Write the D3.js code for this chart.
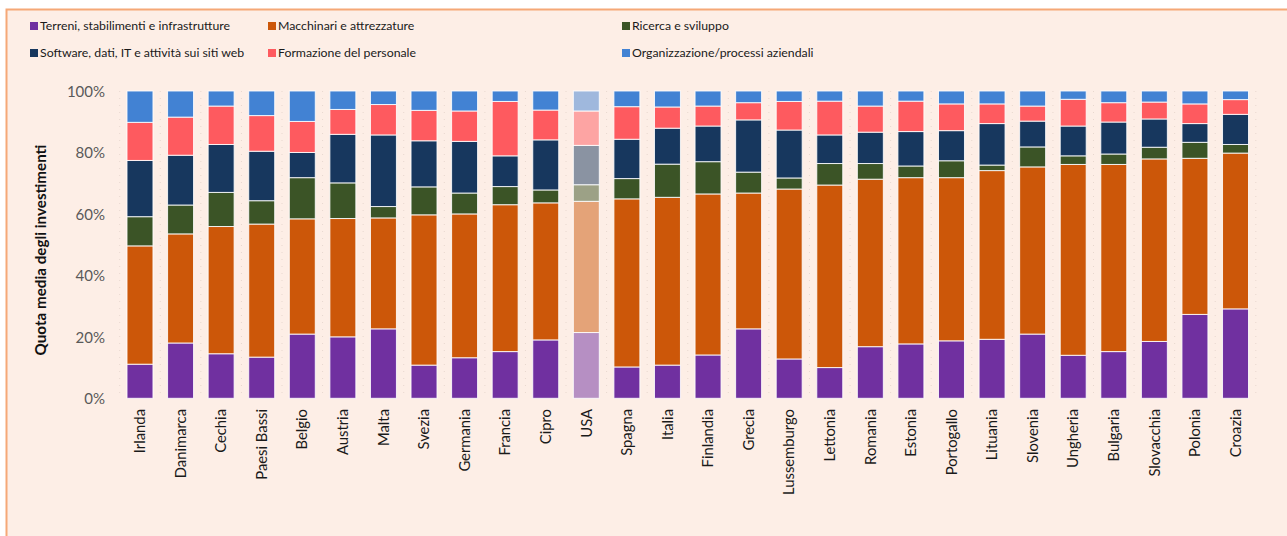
<!DOCTYPE html>
<html>
<head>
<meta charset="utf-8">
<script src="https://cdn.jsdelivr.net/npm/d3@7/dist/d3.min.js"></script>
<style>
  html, body { margin: 0; padding: 0; background: #ffffff; }
  svg { display: block; }
</style>
</head>
<body>
<svg id="chart" width="1287" height="536"></svg>
<script>
// ---- DATA ----
const categories = ["Irlanda","Danimarca","Cechia","Paesi Bassi","Belgio","Austria","Malta","Svezia","Germania","Francia","Cipro","USA","Spagna","Italia","Finlandia","Grecia","Lussemburgo","Lettonia","Romania","Estonia","Portogallo","Lituania","Slovenia","Ungheria","Bulgaria","Slovacchia","Polonia","Croazia"];
const seriesNames = ["Terreni, stabilimenti e infrastrutture","Macchinari e attrezzature","Ricerca e sviluppo","Software, dati, IT e attività sui siti web","Formazione del personale","Organizzazione/processi aziendali"];
const terreni      = [11.1,18.0,14.5,13.4,20.9,20.0,22.6,10.8,13.2,15.2,19.0,21.4,10.2,10.8,14.1,22.6,12.8,10.0,16.8,17.7,18.7,19.2,20.9,14.0,15.2,18.5,27.3,29.1];
const macchinari   = [38.5,35.5,41.4,43.3,37.5,38.5,36.1,48.9,46.8,47.8,44.6,42.7,54.7,54.6,52.4,44.2,55.3,59.4,54.5,54.1,53.1,54.9,54.4,62.1,60.9,59.4,50.8,50.7];
const ricerca      = [9.5,9.4,11.1,7.6,13.4,11.6,3.7,9.1,6.8,5.9,4.2,5.4,6.6,10.8,10.5,6.8,3.6,7.0,5.1,3.8,5.5,1.8,6.5,2.8,3.4,3.8,5.2,2.8];
const software     = [18.3,16.2,15.6,16.1,8.2,15.8,23.3,15.0,16.8,10.0,16.3,12.8,12.8,11.7,11.6,17.0,15.6,9.3,10.2,11.2,9.8,13.5,8.4,9.7,10.4,9.2,6.1,9.8];
const formazione   = [12.4,12.4,12.5,11.6,10.1,8.1,9.9,9.9,9.9,17.7,9.7,11.2,10.6,6.9,6.5,5.6,9.3,11.0,8.5,9.9,8.7,6.4,4.9,8.7,6.3,5.5,6.4,4.8];
const organizzazione = [10.2,8.5,4.9,8.0,9.9,6.0,4.4,6.3,6.5,3.4,6.2,6.5,5.1,5.2,4.9,3.8,3.4,3.3,4.9,3.3,4.2,4.2,4.9,2.7,3.8,3.6,4.2,2.8];
const yTicks = [0, 20, 40, 60, 80, 100];
const highlighted = "USA";
const yTitle = "Quota media degli investimenti";
const colors = ["#7030a0","#cc5709","#3b5426","#17375e","#fe5a5f","#4282d3"];

// ---- BUILD ----
const seriesArrays = [terreni, macchinari, ricerca, software, formazione, organizzazione];
const keys = seriesNames;
const table = categories.map((c, i) => {
  const row = { cat: c };
  keys.forEach((k, j) => row[k] = seriesArrays[j][i]);
  return row;
});
const stack = d3.stack().keys(keys).offset(d3.stackOffsetExpand);
const stacked = stack(table);

const svg = d3.select("#chart");
const W = 1287, H = 536;
const FONT = "Lato, 'Open Sans', sans-serif";

// frame
svg.append("rect").attr("x", 0).attr("y", 0).attr("width", W).attr("height", H).attr("fill", "#ffffff");
svg.append("rect").attr("x", 6.5).attr("y", 9.5).attr("width", W + 10).attr("height", H + 10)
  .attr("fill", "#fdeee6").attr("stroke", "#f5a877").attr("stroke-width", 2);

const x = d3.scaleBand().domain(categories).range([119.7, 1255.8]).paddingInner(0.36).paddingOuter(0.18);
const y = d3.scaleLinear().domain([0, 1]).range([398.3, 91]);

// vertical dotted gridlines at category boundaries
const step = x.step();
const bounds = categories.map(c => x(c) - (step - x.bandwidth()) / 2);
bounds.push(x(categories[categories.length - 1]) + x.bandwidth() + (step - x.bandwidth()) / 2);
svg.append("g").selectAll("line").data(bounds).join("line")
  .attr("x1", d => d).attr("x2", d => d)
  .attr("y1", y(1)).attr("y2", y(0))
  .attr("stroke", "#e8d8cf").attr("stroke-width", 1).attr("stroke-dasharray", "1,6");

// bars
const layers = svg.append("g").selectAll("g").data(stacked).join("g")
  .attr("fill", (d, i) => colors[i]);
layers.selectAll("rect").data(d => d).join("rect")
  .attr("x", d => x(d.data.cat))
  .attr("width", x.bandwidth())
  .attr("y", d => y(d[1]))
  .attr("height", d => y(d[0]) - y(d[1]))
  .attr("fill-opacity", d => d.data.cat === highlighted ? 0.5 : 1)
  .attr("stroke", "#ffffff").attr("stroke-width", 1).attr("stroke-opacity", 0.85);

// y axis
const yAxis = d3.axisLeft(y).tickValues(yTicks.map(t => t / 100)).tickFormat(d => Math.round(d * 100) + "%").tickSize(0).tickPadding(0);
const gy = svg.append("g").attr("transform", "translate(105,0)").call(yAxis);
gy.select(".domain").remove();
gy.selectAll("text").attr("font-family", FONT).attr("font-size", 15).attr("fill", "#595959").attr("dy", "0.35em");

// y title
svg.append("text")
  .attr("transform", "translate(46,250) rotate(-90)")
  .attr("text-anchor", "middle")
  .attr("font-family", FONT)
  .attr("font-weight", "bold")
  .attr("font-size", 15.2)
  .attr("fill", "#111")
  .text(yTitle);

// x axis labels
const xAxis = d3.axisBottom(x).tickSize(0).tickPadding(0);
const gx = svg.append("g").attr("transform", "translate(0,409)").call(xAxis);
gx.select(".domain").remove();
gx.selectAll("text")
  .attr("font-family", FONT)
  .attr("font-size", 14.8)
  .attr("fill", "#1a1a1a")
  .attr("text-anchor", "end")
  .attr("transform", "rotate(-90)")
  .attr("x", 0).attr("y", 0).attr("dx", 0).attr("dy", "0.35em");

// legend
const legendPos = [[30, 26], [268, 26], [622, 26], [30, 53], [268, 53], [622, 53]];
const lg = svg.append("g").selectAll("g").data(keys).join("g")
  .attr("transform", (d, i) => `translate(${legendPos[i][0]},${legendPos[i][1]})`);
lg.append("rect").attr("x", 0).attr("y", -4).attr("width", 8).attr("height", 8).attr("fill", (d, i) => colors[i]);
lg.append("text").attr("x", 10).attr("y", 0).attr("dy", "0.35em")
  .attr("font-family", FONT).attr("font-size", 12.3).attr("fill", "#1a1a1a")
  .text(d => d);
</script>
</body>
</html>
